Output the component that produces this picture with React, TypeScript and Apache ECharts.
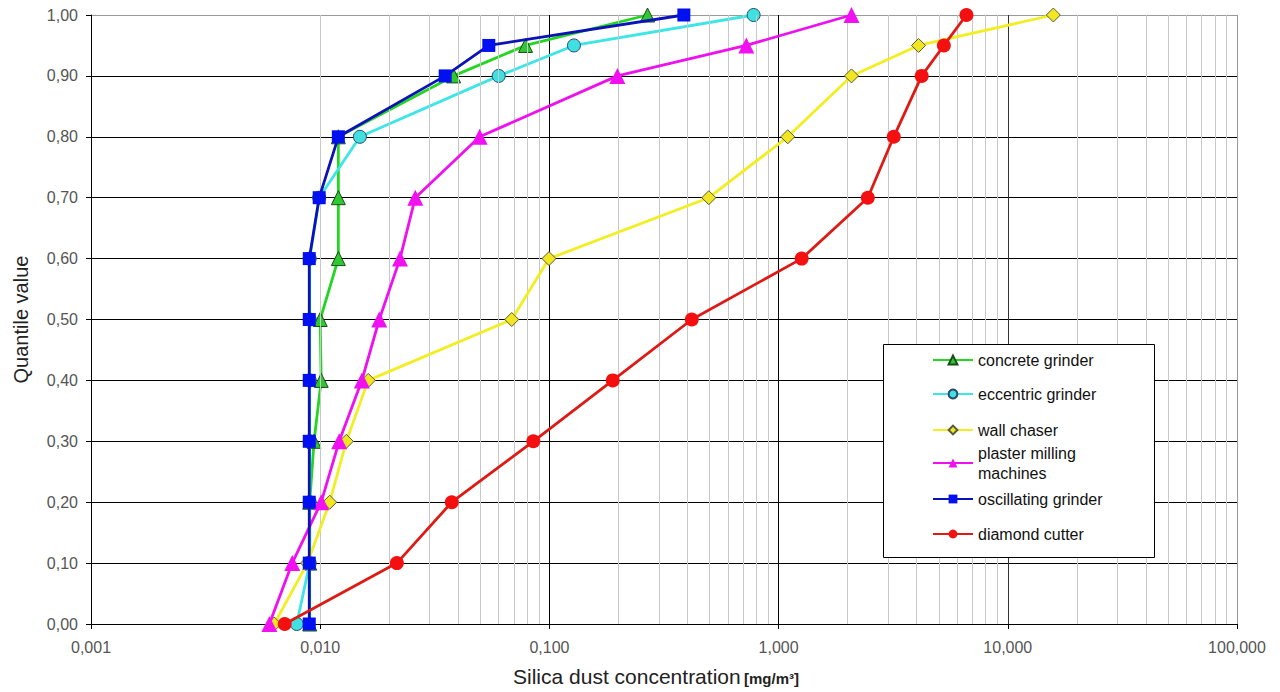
import React, { useEffect, useRef } from 'react';
import * as echarts from 'echarts';

// Quantile levels (y values)
const quantiles = [0, 0.1, 0.2, 0.3, 0.4, 0.5, 0.6, 0.7, 0.8, 0.9, 0.95, 1.0];

// Silica dust concentration [mg/m³] per quantile
const concreteGrinder = [0.009, 0.009, 0.009, 0.0094, 0.0101, 0.0100, 0.0120, 0.0120, 0.0120, 0.0382, 0.0787, 0.268];
const eccentricGrinder = [0.0079, 0.009, 0.009, 0.009, 0.009, 0.009, 0.009, 0.0099, 0.0149, 0.0601, 0.128, 0.778];
const wallChaser = [0.0063, 0.0088, 0.0110, 0.0130, 0.0162, 0.0685, 0.0996, 0.496, 1.096, 2.08, 4.08, 15.8];
const plasterMilling = [0.0060, 0.00755, 0.0101, 0.0121, 0.0152, 0.0181, 0.0223, 0.026, 0.0496, 0.198, 0.723, 2.08];
const oscillatingGrinder = [0.00896, 0.00896, 0.00896, 0.00896, 0.00896, 0.00896, 0.00896, 0.0099, 0.0120, 0.0351, 0.0544, 0.386];
const diamondCutter = [0.0070, 0.0216, 0.0375, 0.0851, 0.189, 0.418, 1.261, 2.45, 3.18, 4.21, 5.26, 6.6];

const seriesNames = [
  'concrete grinder',
  'eccentric grinder',
  'wall chaser',
  'plaster milling\nmachines',
  'oscillating grinder',
  'diamond cutter',
];

const FONT = '"Liberation Sans", Arial, sans-serif';

const fmtX = (v: number) => v.toFixed(3).replace('.', ',');
const fmtY = (v: number) => v.toFixed(2).replace('.', ',');

export default function App() {
  const ref = useRef<HTMLDivElement>(null);

  useEffect(() => {
    const chart = echarts.init(ref.current!, null, { renderer: 'svg' });

    const pair = (xs: number[]) => xs.map((x, i) => [x, quantiles[i]]);

    // minor log grid lines (2..9 x each decade)
    const minorLines: { xAxis: number }[] = [];
    for (let k = -3; k <= 1; k++) {
      for (let m = 2; m <= 9; m++) {
        minorLines.push({ xAxis: Number((m * Math.pow(10, k)).toPrecision(3)) });
      }
    }

    const styles = [
      { line: '#22d622', fill: '#30c830', border: '#1a4a1a', symbol: 'triangle', size: 14, bw: 1 },
      { line: '#3ce6e6', fill: '#40e0e0', border: '#2a4a6a', symbol: 'circle', size: 13, bw: 1 },
      { line: '#f2ee22', fill: '#f2e622', border: '#5a5a3a', symbol: 'diamond', size: 14, bw: 1 },
      { line: '#ee10ee', fill: '#f010f0', border: '#f010f0', symbol: 'triangle', size: 16, bw: 0 },
      { line: '#0a12b8', fill: '#0010f0', border: '#0010f0', symbol: 'rect', size: 13, bw: 0 },
      { line: '#dd1a14', fill: '#f41010', border: '#f41010', symbol: 'circle', size: 14, bw: 0 },
    ];
    const datasets = [concreteGrinder, eccentricGrinder, wallChaser, plasterMilling, oscillatingGrinder, diamondCutter];

    const dataSeries = datasets.map((d, i) => ({
      name: seriesNames[i],
      type: 'line',
      z: 3 + i,
      data: pair(d),
      symbol: styles[i].symbol,
      symbolSize: styles[i].size,
      showAllSymbol: true,
      lineStyle: { color: styles[i].line, width: 2.8 },
      itemStyle: { color: styles[i].fill, borderColor: styles[i].border, borderWidth: styles[i].bw },
      emphasis: { disabled: true },
    }));

    const legendTops = [350, 384, 420, 443, 489, 524];
    const legends = seriesNames.map((n, i) => ({
      data: [n],
      orient: 'vertical',
      left: 932,
      top: legendTops[i],
      padding: 0,
      itemWidth: 40,
      itemHeight: 11,
      itemGap: 0,
      z: 20,
      selectedMode: false,
      textStyle: { fontFamily: FONT, fontSize: 16, color: '#111', lineHeight: 20 },
    }));

    chart.setOption({
      animation: false,
      backgroundColor: '#fff',
      grid: { left: 91, right: 43, top: 15, bottom: 67, containLabel: false },
      legend: legends,
      graphic: [
        {
          type: 'rect',
          z: 15,
          shape: { x: 883.5, y: 344.5, width: 271, height: 213 },
          style: { fill: '#fff', stroke: '#000', lineWidth: 1 },
        },
      ],
      xAxis: {
        type: 'log',
        logBase: 10,
        min: 0.001,
        max: 100,
        name: '{a|Silica dust concentration} {b|[mg/m³]}',
        nameLocation: 'middle',
        nameGap: 42,
        nameTextStyle: {
          padding: [0, 16, 0, 0],
          rich: {
            a: { fontFamily: FONT, fontSize: 21, color: '#222' },
            b: { fontFamily: FONT, fontSize: 15, fontWeight: 'bold', color: '#222', padding: [4, 0, 0, 0] },
          },
        },
        axisLine: { show: true, lineStyle: { color: '#000', width: 1 } },
        axisTick: { show: true, length: 5, lineStyle: { color: '#000' } },
        axisLabel: { formatter: fmtX, fontFamily: FONT, fontSize: 16, color: '#555', margin: 15 },
        splitLine: { show: true, lineStyle: { color: ['#000', '#000', '#000', '#000', '#333', '#999'], width: 1 } },
      },
      yAxis: {
        type: 'value',
        min: 0,
        max: 1,
        interval: 0.1,
        name: 'Quantile value',
        nameLocation: 'middle',
        nameGap: 60,
        nameRotate: 90,
        nameTextStyle: { fontFamily: FONT, fontSize: 20, color: '#222' },
        axisLine: { show: true, lineStyle: { color: '#000', width: 1 } },
        axisTick: { show: true, length: 5, lineStyle: { color: '#000' } },
        axisLabel: { formatter: fmtY, fontFamily: FONT, fontSize: 16, color: '#555', margin: 13 },
        splitLine: {
          show: true,
          lineStyle: {
            color: ['#000', '#000', '#000', '#000', '#000', '#000', '#000', '#000', '#000', '#000', '#999'],
            width: 1,
          },
        },
      },
      series: [
        {
          name: '_minor',
          type: 'line',
          z: 1,
          silent: true,
          data: [],
          showSymbol: false,
          lineStyle: { opacity: 0 },
          markLine: {
            silent: true,
            symbol: ['none', 'none'],
            label: { show: false },
            lineStyle: { color: '#c8c8c8', width: 1, type: 'solid' },
            emphasis: { disabled: true },
            data: minorLines,
          },
        },
        ...dataSeries,
      ],
    });

    return () => chart.dispose();
  }, []);

  return (
    <div
      ref={ref}
      style={{ position: 'absolute', left: 0, top: 0, width: 1280, height: 692, background: '#fff' }}
    />
  );
}
